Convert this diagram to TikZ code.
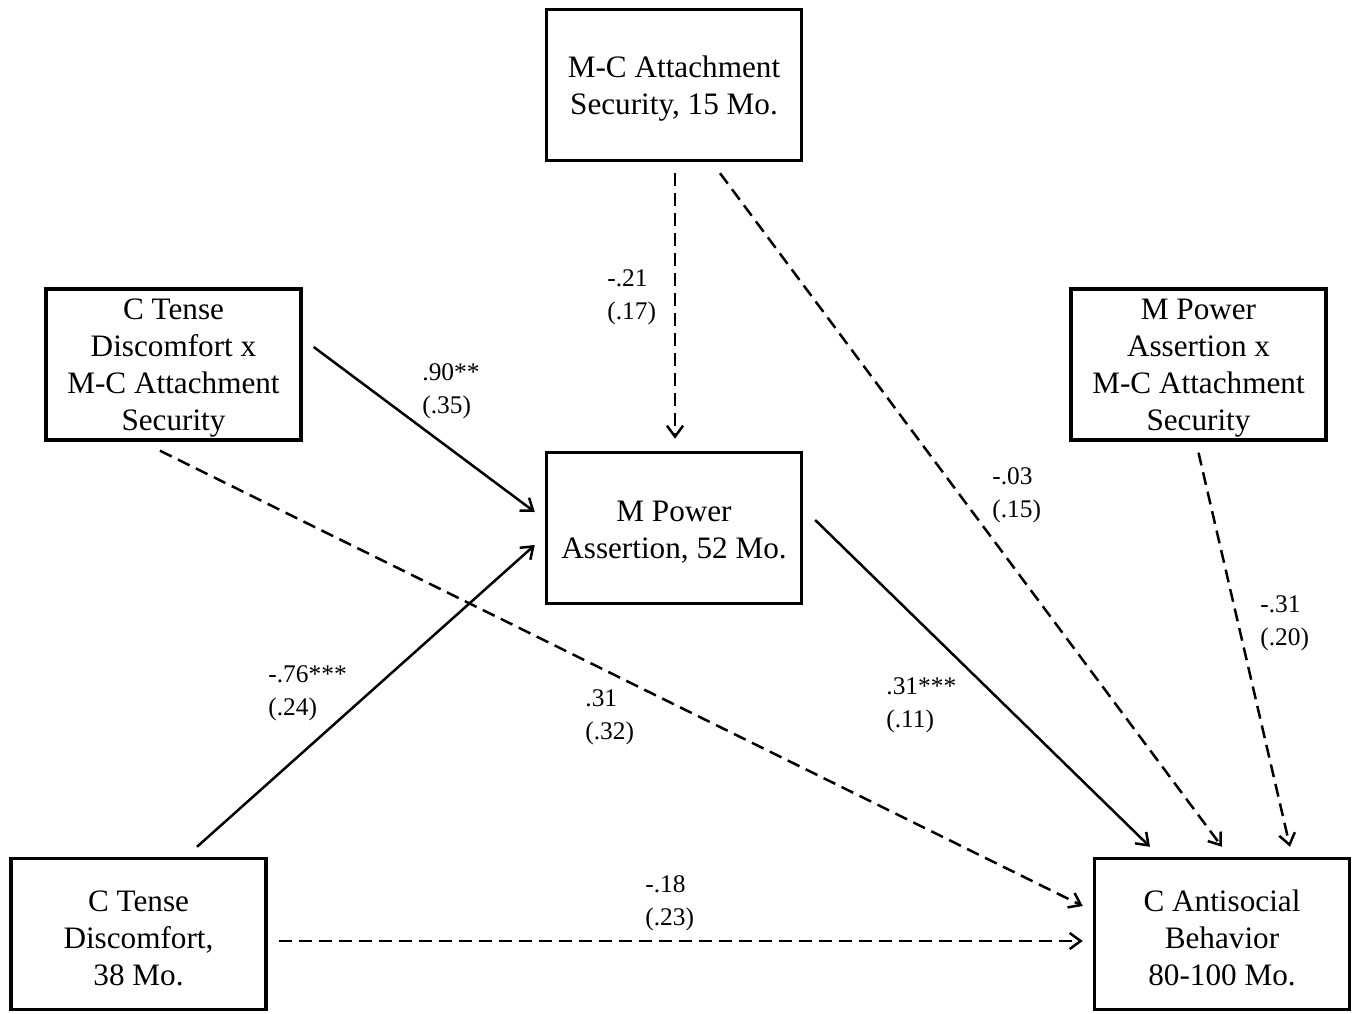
\documentclass[tikz,border=0pt]{standalone}
\usepackage{fontspec}
\setmainfont{Liberation Serif}
\usetikzlibrary{arrows.meta,calc}
\begin{document}
\begin{tikzpicture}[x=0.5pt,y=-0.5pt,
  box/.style={draw,line width=1.7pt,minimum width=127.5pt,minimum height=75.5pt,inner sep=0pt},
  btxt/.style={align=center,inner sep=0pt,font=\fontsize{15.6}{18.5}\selectfont},
  lab/.style={anchor=west,align=left,inner sep=0pt,font=\fontsize{12.7}{16.5}\selectfont},
  conn/.style={line width=1.25pt,-{Straight Barb[length=5.5pt,width=8pt]}},
  dconn/.style={conn,dash pattern=on 6.5pt off 3.5pt}]
\useasboundingbox (0,0) rectangle (1355,1013);
\node[box] (mca) at (674,85) {};
\node[box] (ctx) at (173.5,364.5) {};
\node[box] (mpa) at (674,528) {};
\node[box] (mpx) at (1198.5,364.5) {};
\node[box] (ctd) at (138.5,934) {};
\node[box] (cab) at (1222,934) {};
\node[btxt] (mcat) at ($(mca)+(0,4)$) {M-C Attachment\\Security, 15 Mo.};
\node[btxt] (ctxt) at ($(ctx)+(0,4)$) {C Tense\\Discomfort x\\M-C Attachment\\Security};
\node[btxt] (mpat) at ($(mpa)+(0,4)$) {M Power\\Assertion, 52 Mo.};
\node[btxt] (mpxt) at ($(mpx)+(0,4)$) {M Power\\Assertion x\\M-C Attachment\\Security};
\node[btxt] (ctdt) at ($(ctd)+(0,4)$) {C Tense\\Discomfort,\\38 Mo.};
\node[btxt] (cabt) at ($(cab)+(0,4)$) {C Antisocial\\Behavior\\80-100 Mo.};
\draw[dconn] ($(mca.south)+(1,11)$) -- ($(mpa.north)+(1,-12)$);
\draw[dconn] ($(mca.south)+(46,11)$) -- ($(cab.north)+(0,-10)$);
\draw[conn] ($(ctx.east)+(11,-17.5)$) -- ($(mpa.west)+(-10,-16)$);
\draw[dconn] ($(ctx.south)+(-13.5,9)$) -- ($(cab.west)+(-10,-28)$);
\draw[conn] ($(ctd.north)+(58.5,-10)$) -- ($(mpa.west)+(-10,17)$);
\draw[conn] ($(mpa.east)+(12,-8)$) -- ($(cab.north)+(-72,-10)$);
\draw[dconn] ($(mpx.south)+(0,11)$) -- ($(cab.north)+(68,-10)$);
\draw[dconn] ($(ctd.east)+(11,7)$) -- ($(cab.west)+(-10,7)$);
\node[lab] (l1) at (607,297.5) {-.21\\(.17)};
\node[lab] (l2) at (992,495.5) {-.03\\(.15)};
\node[lab] (l3) at (422,391.5) {.90**\\(.35)};
\node[lab] (l4) at (585,717.5) {.31\\(.32)};
\node[lab] (l5) at (268,693) {-.76***\\(.24)};
\node[lab] (l6) at (886,705.5) {.31***\\(.11)};
\node[lab] (l7) at (1260,623.5) {-.31\\(.20)};
\node[lab] (l8) at (645,903.5) {-.18\\(.23)};
\end{tikzpicture}
\end{document}
